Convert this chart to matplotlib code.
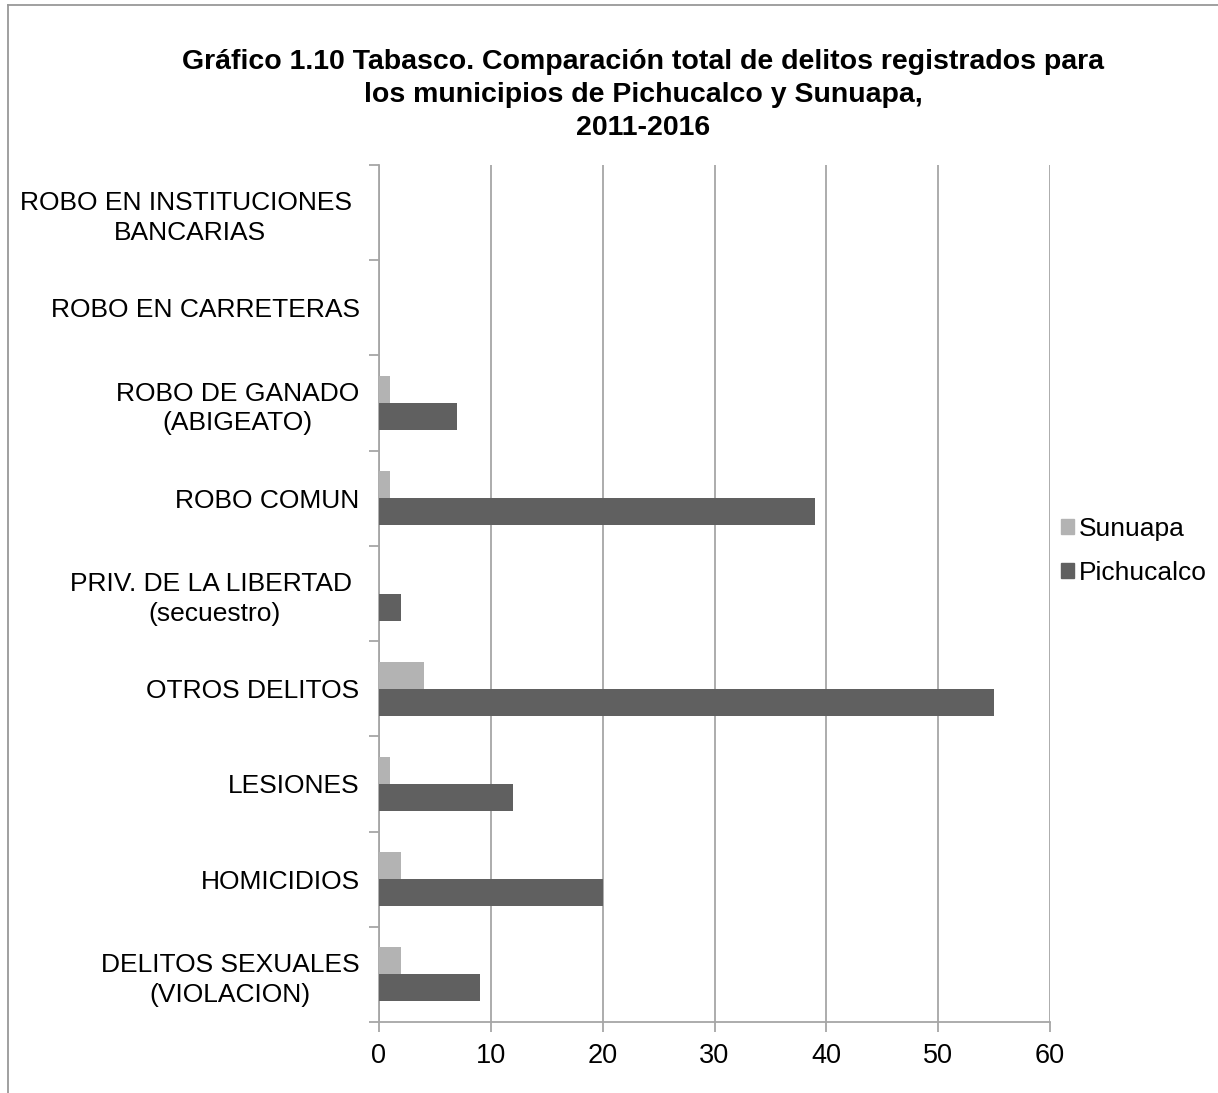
import matplotlib
matplotlib.use("Agg")
import matplotlib.pyplot as plt
from matplotlib.lines import Line2D
from matplotlib.patches import Patch
import numpy as np

plt.rcParams['font.family'] = ['Liberation Sans', 'DejaVu Sans']

categories = [
    "DELITOS SEXUALES\n(VIOLACION)",
    "HOMICIDIOS",
    "LESIONES",
    "OTROS DELITOS",
    "PRIV. DE LA LIBERTAD \n(secuestro)",
    "ROBO COMUN",
    "ROBO DE GANADO\n(ABIGEATO)",
    "ROBO EN CARRETERAS",
    "ROBO EN INSTITUCIONES \nBANCARIAS",
]
sunuapa = [2, 2, 1, 4, 0, 1, 1, 0, 0]
pichucalco = [9, 20, 12, 55, 2, 39, 7, 0, 0]
series_names = ["Sunuapa", "Pichucalco"]
xticks = [0, 10, 20, 30, 40, 50, 60]
title = ("Gráfico 1.10 Tabasco. Comparación total de delitos registrados para\n"
         "los municipios de Pichucalco y Sunuapa,\n2011-2016")

W, H = 1218, 1093
fig = plt.figure(figsize=(W / 100, H / 100), dpi=100)
ax = fig.add_axes([379 / W, 1 - 1022 / H, (1050 - 379) / W, (1022 - 165) / H])

c_light = "#b3b3b3"
c_dark = "#606060"
grid_c = "#a6a6a6"

y = np.arange(len(categories))
h = 0.284
ax.barh(y + h / 2, sunuapa, height=h, color=c_light, zorder=3)
ax.barh(y - h / 2, pichucalco, height=h, color=c_dark, zorder=3)

ax.set_xlim(0, 60)
ax.set_ylim(-0.5, len(categories) - 0.5)
ax.set_xticks(xticks)
ax.set_xticklabels([str(v) for v in xticks], fontsize=19.5)
ax.xaxis.grid(True, color=grid_c, linewidth=1.3, zorder=0)

ax.set_yticks(y)
ax.set_yticklabels(categories, fontsize=19, multialignment='center', linespacing=1.3)
ax.tick_params(axis='y', length=0, pad=14)
ax.set_yticks(np.arange(-0.5, len(categories), 1), minor=True)
ax.tick_params(axis='y', which='minor', length=7, color=grid_c, width=1.3)
ax.tick_params(axis='x', length=7, color=grid_c, width=1.3, pad=8)

for s in ['top', 'right']:
    ax.spines[s].set_visible(False)
for s in ['left', 'bottom']:
    ax.spines[s].set_color(grid_c)
    ax.spines[s].set_linewidth(1.3)

fig.text(643 / W, 1 - 135 / H, title, ha='center', va='baseline', fontsize=20.5,
         fontweight='bold', linespacing=1.36)

handles = [Patch(color=c_light), Patch(color=c_dark)]
fig.legend(handles, series_names, loc='center left',
           bbox_to_anchor=(1037 / W, 1 - 551 / H), frameon=False,
           fontsize=19, handlelength=0.5, handleheight=0.5,
           handletextpad=0.2, labelspacing=0.75)

fig.add_artist(Line2D([7.5 / W, 7.5 / W], [0, 1 - 4.5 / H], transform=fig.transFigure,
                      color="#999999", linewidth=1.3))
fig.add_artist(Line2D([7.5 / W, 1], [1 - 4.5 / H, 1 - 4.5 / H], transform=fig.transFigure,
                      color="#999999", linewidth=1.3))

fig.savefig("out.png", dpi=100)
